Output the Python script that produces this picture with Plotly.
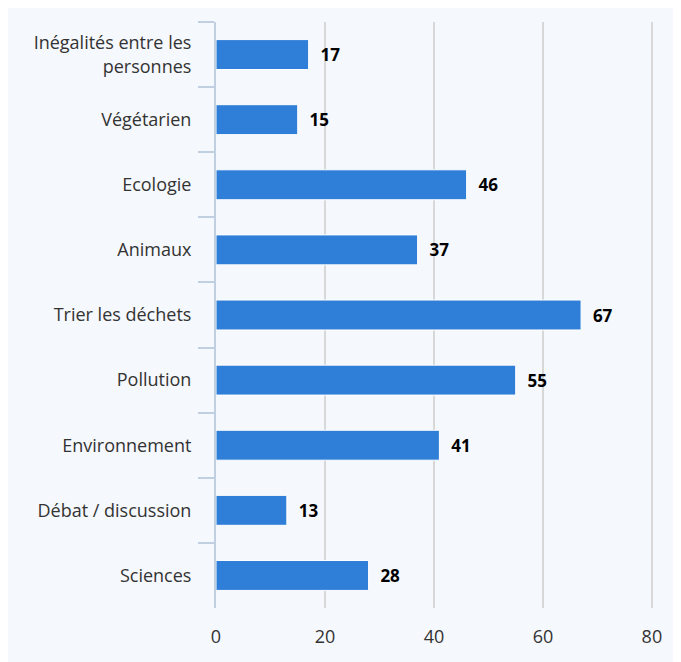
import plotly.graph_objects as go

categories = ["Inégalités entre les<br>personnes", "Végétarien", "Ecologie", "Animaux",
              "Trier les déchets", "Pollution", "Environnement", "Débat / discussion", "Sciences"]
values = [17, 15, 46, 37, 67, 55, 41, 13, 28]
x_ticks = [0, 20, 40, 60, 80]

fig = go.Figure(go.Bar(
    x=values, y=categories, orientation="h",
    marker=dict(color="#2f7ed8", line=dict(color="#ffffff", width=1)),
    text=values, texttemplate="  %{x}", textposition="outside", cliponaxis=False,
    textfont=dict(family="Open Sans", size=17, color="#000000", weight="bold"),
))

fig.update_layout(
    width=673, height=654,
    margin=dict(l=208, r=28, t=14, b=54),
    paper_bgcolor="#f5f8fc", plot_bgcolor="#f5f8fc",
    font=dict(family="Open Sans", size=18, color="#333333"),
    bargap=0.54, showlegend=False,
)
fig.update_xaxes(range=[0, 80.2], tickvals=x_ticks, showgrid=True, gridcolor="#d8d8d8", gridwidth=2,
                 zeroline=False, showline=False, ticks="", ticklabelstandoff=16,
                 tickfont=dict(size=18, color="#333333"))
fig.update_yaxes(autorange="reversed", tickson="boundaries", ticks="outside", ticklen=16,
                 tickcolor="#c0d0e0", tickwidth=2, showline=True, linecolor="#c0d0e0", linewidth=2,
                 showgrid=False, ticklabelstandoff=19, tickfont=dict(size=18, color="#333333"))

fig.write_html("out.html")
